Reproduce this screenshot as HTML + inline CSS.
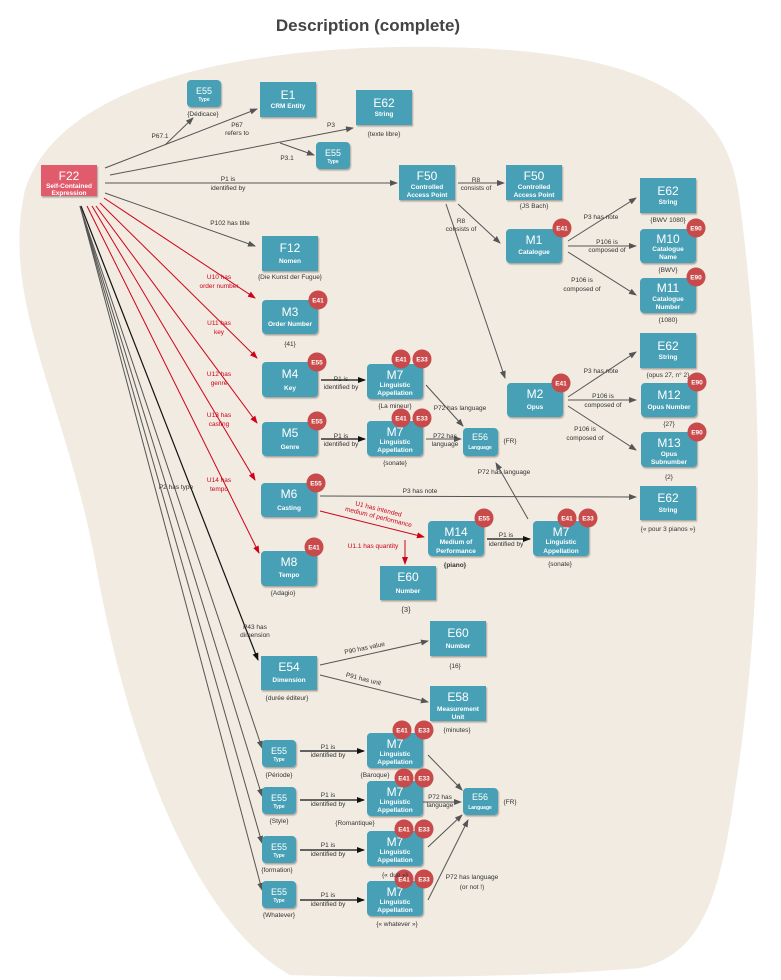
<!DOCTYPE html>
<html><head><meta charset="utf-8"><style>
html,body{margin:0;padding:0;background:#fff;}
svg{display:block;font-family:"Liberation Sans",sans-serif;}
.n{fill:#46a0b6;}
.c{fill:#fff;font-size:12px;text-anchor:middle;}
.s{fill:#fff;font-size:6.5px;font-weight:bold;text-anchor:middle;}
.t{fill:#fff;font-size:5px;font-weight:bold;text-anchor:middle;}
.l{fill:#333;font-size:6.5px;text-anchor:middle;}
.r{fill:#d0021b;font-size:6.5px;text-anchor:middle;}
.b{fill:#c94a4a;}
.bt{fill:#fff;font-size:6.5px;font-weight:bold;text-anchor:middle;}
.e{stroke:#555;stroke-width:1;fill:none;marker-end:url(#a);}
.er{stroke:#d0021b;stroke-width:1;fill:none;marker-end:url(#ar);}
.ek{stroke:#111;stroke-width:1.2;fill:none;marker-end:url(#ak);}
.g{stroke:#555;stroke-width:0.9;fill:none;}
</style></head><body>
<svg width="781" height="980" viewBox="0 0 781 980">
<defs>
<marker id="a" markerWidth="8" markerHeight="6" refX="7" refY="3" orient="auto" markerUnits="userSpaceOnUse"><path d="M0,0 L8,3 L0,6 Z" fill="#555"/></marker>
<marker id="ar" markerWidth="8" markerHeight="6" refX="7" refY="3" orient="auto" markerUnits="userSpaceOnUse"><path d="M0,0 L8,3 L0,6 Z" fill="#d0021b"/></marker>
<marker id="ak" markerWidth="8" markerHeight="6" refX="7" refY="3" orient="auto" markerUnits="userSpaceOnUse"><path d="M0,0 L8,3 L0,6 Z" fill="#111"/></marker>
<filter id="sh" x="-10%" y="-10%" width="130%" height="140%"><feDropShadow dx="1" dy="1.5" stdDeviation="0.8" flood-color="#000" flood-opacity="0.3"/></filter>
</defs>
<text x="368" y="31" style="font-size:17px;fill:#444;text-anchor:middle;font-weight:600;font-family:'Liberation Sans',sans-serif">Description (complete)</text>
<path d="M400,47 C610,45 720,80 738,190 C765,380 765,600 735,790 C720,900 700,955 640,968 C520,978 380,978 290,975 C200,925 130,760 95,560 C65,400 0,300 25,190 C60,80 250,49 400,47 Z" fill="#f1ebe1"/>

<g>
<path class="e" d="M105,168 L257,109"/>
<path class="e" d="M165,145 L193,118"/>
<path class="e" d="M110,175 L353,128"/>
<path class="e" d="M280,143 L314,155"/>
<path class="e" d="M105,183 L397,183"/>
<path class="e" d="M105,193 L255,246"/>
<path class="er" d="M104,198 L255,298"/>
<path class="er" d="M100,203 L257,358"/>
<path class="er" d="M96,206 L257,423"/>
<path class="er" d="M92,206 L255,480"/>
<path class="er" d="M87,206 L259,553"/>
<path class="ek" d="M81,206 L258,660"/>
<path class="e" d="M80,206 L262,748"/>
<path class="e" d="M80,206 L262,796"/>
<path class="e" d="M80,206 L262,843"/>
<path class="e" d="M80,206 L262,890"/>
<path class="e" d="M458,183 L504,183"/>
<path class="e" d="M458,204 L500,243"/>
<path class="e" d="M446,204 L505,378"/>
<path class="e" d="M568,241 L636,198"/>
<path class="e" d="M568,246 L636,246"/>
<path class="e" d="M568,252 L636,295"/>
<path class="e" d="M568,397 L636,352"/>
<path class="e" d="M568,400 L636,400"/>
<path class="e" d="M568,406 L636,450"/>
<path class="ek" d="M321,380 L365,380"/>
<path class="e" d="M426,385 L463,426"/>
<path class="ek" d="M321,439 L365,439"/>
<path class="e" d="M426,439 L461,439"/>
<path class="e" d="M528,519 L496,463"/>
<path class="e" d="M320,496 L636,497"/>
<path class="er" d="M320,511 L424,537"/>
<path class="er" d="M405,540 L405,564"/>
<path class="ek" d="M487,539 L530,539"/>
<path class="e" d="M320,665 L428,641"/>
<path class="e" d="M320,675 L428,702"/>
<path class="ek" d="M300,751 L364,751"/>
<path class="ek" d="M300,800 L364,800"/>
<path class="ek" d="M300,850 L364,850"/>
<path class="ek" d="M300,900 L364,900"/>
<path class="e" d="M428,755 L462,790"/>
<path class="e" d="M423,802 L461,802"/>
<path class="e" d="M428,847 L462,815"/>
<path class="e" d="M428,900 L468,820"/>
</g>

<g>
<text class="l" x="160" y="138">P67.1</text>
<text class="l" x="237" y="127">P67</text><text class="l" x="237" y="135">refers to</text>
<text class="l" x="331" y="127">P3</text>
<text class="l" x="287" y="160">P3.1</text>
<text class="l" x="228" y="181">P1 is</text><text class="l" x="228" y="190">identified by</text>
<text class="l" x="230" y="225">P102 has title</text>
<text class="r" x="219" y="279">U10 has</text><text class="r" x="219" y="288">order number</text>
<text class="r" x="219" y="325">U11 has</text><text class="r" x="219" y="334">key</text>
<text class="r" x="219" y="376">U12 has</text><text class="r" x="219" y="385">genre</text>
<text class="r" x="219" y="417">U13 has</text><text class="r" x="219" y="426">casting</text>
<text class="r" x="219" y="482">U14 has</text><text class="r" x="219" y="491">tempo</text>
<text class="l" x="176" y="489">P2 has type</text>
<text class="l" x="255" y="629">P43 has</text><text class="l" x="255" y="637">dimension</text>
<text class="l" x="476" y="182">R8</text><text class="l" x="476" y="190">consists of</text>
<text class="l" x="461" y="223">R8</text><text class="l" x="461" y="231">consists of</text>
<text class="l" x="601" y="219">P3 has note</text>
<text class="l" x="607" y="244">P106 is</text><text class="l" x="607" y="252">composed of</text>
<text class="l" x="582" y="282">P106 is</text><text class="l" x="582" y="291">composed of</text>
<text class="l" x="601" y="373">P3 has note</text>
<text class="l" x="603" y="398">P106 is</text><text class="l" x="603" y="407">composed of</text>
<text class="l" x="585" y="431">P106 is</text><text class="l" x="585" y="440">composed of</text>
<text class="l" x="341" y="381">P1 is</text><text class="l" x="341" y="389">identified by</text>
<text class="l" x="460" y="410">P72 has language</text>
<text class="l" x="341" y="438">P1 is</text><text class="l" x="341" y="446">identified by</text>
<text class="l" x="445" y="438">P72 has</text><text class="l" x="445" y="446">language</text>
<text class="l" x="504" y="474">P72 has language</text>
<text class="l" x="420" y="493">P3 has note</text>
<text class="r" x="378" y="511" transform="rotate(14 378 511)">U1 has intended</text>
<text class="r" x="378" y="519" transform="rotate(14 378 519)">medium of performance</text>
<text class="r" x="373" y="548">U1.1 has quantity</text>
<text class="l" x="506" y="537">P1 is</text><text class="l" x="506" y="546">identified by</text>
<text class="l" x="365" y="650" transform="rotate(-12 365 650)">P90 has value</text>
<text class="l" x="363" y="681" transform="rotate(14 363 681)">P91 has unit</text>
<text class="l" x="328" y="749">P1 is</text><text class="l" x="328" y="757">identified by</text>
<text class="l" x="328" y="797">P1 is</text><text class="l" x="328" y="806">identified by</text>
<text class="l" x="328" y="847">P1 is</text><text class="l" x="328" y="856">identified by</text>
<text class="l" x="328" y="897">P1 is</text><text class="l" x="328" y="906">identified by</text>
<text class="l" x="440" y="799">P72 has</text><text class="l" x="440" y="807">language</text>
<text class="l" x="472" y="879">P72 has language</text><text class="l" x="472" y="889">(or not !)</text>
</g>

<g filter="url(#sh)">
<rect x="41" y="165" width="56" height="31" fill="#e05c6c"/>
<rect class="n" x="187" y="80" width="34" height="27" rx="4"/>
<rect class="n" x="260" y="82" width="56" height="35"/>
<rect class="n" x="356" y="90" width="56" height="35"/>
<rect class="n" x="316" y="142" width="34" height="27" rx="4"/>
<rect class="n" x="399" y="165" width="56" height="35"/>
<rect class="n" x="506" y="165" width="56" height="35"/>
<rect class="n" x="640" y="178" width="56" height="35"/>
<rect class="n" x="506" y="229" width="56" height="34" rx="4"/>
<rect class="n" x="640" y="229" width="56" height="34" rx="4"/>
<rect class="n" x="640" y="278" width="56" height="35" rx="4"/>
<rect class="n" x="262" y="236" width="56" height="35"/>
<rect class="n" x="262" y="300" width="56" height="34" rx="4"/>
<rect class="n" x="640" y="333" width="56" height="35"/>
<rect class="n" x="262" y="362" width="56" height="35" rx="4"/>
<rect class="n" x="367" y="364" width="56" height="35" rx="4"/>
<rect class="n" x="507" y="383" width="56" height="34" rx="4"/>
<rect class="n" x="641" y="383" width="56" height="34" rx="4"/>
<rect class="n" x="262" y="422" width="56" height="34" rx="4"/>
<rect class="n" x="367" y="421" width="56" height="35" rx="4"/>
<rect class="n" x="463" y="428" width="35" height="28" rx="4"/>
<rect class="n" x="641" y="432" width="56" height="35" rx="4"/>
<rect class="n" x="261" y="483" width="56" height="34" rx="4"/>
<rect class="n" x="640" y="486" width="56" height="34"/>
<rect class="n" x="428" y="521" width="56" height="35" rx="4"/>
<rect class="n" x="533" y="521" width="56" height="35" rx="4"/>
<rect class="n" x="261" y="551" width="56" height="35" rx="4"/>
<rect class="n" x="380" y="566" width="56" height="34"/>
<rect class="n" x="430" y="621" width="56" height="35"/>
<rect class="n" x="261" y="656" width="56" height="34"/>
<rect class="n" x="430" y="686" width="56" height="35"/>
<rect class="n" x="262" y="740" width="34" height="27" rx="4"/>
<rect class="n" x="262" y="787" width="34" height="27" rx="4"/>
<rect class="n" x="262" y="836" width="34" height="27" rx="4"/>
<rect class="n" x="262" y="881" width="34" height="27" rx="4"/>
<rect class="n" x="367" y="733" width="56" height="35" rx="4"/>
<rect class="n" x="367" y="781" width="56" height="35" rx="4"/>
<rect class="n" x="367" y="831" width="56" height="35" rx="4"/>
<rect class="n" x="367" y="881" width="56" height="35" rx="4"/>
<rect class="n" x="463" y="788" width="35" height="27" rx="4"/>
</g>

<g>
<text class="c" x="69" y="180">F22</text><text class="s" x="69" y="188">Self-Contained</text><text class="s" x="69" y="195">Expression</text>
<text class="c" x="204" y="94" style="font-size:9px">E55</text><text class="t" x="204" y="101">Type</text>
<text class="c" x="288" y="99">E1</text><text class="s" x="288" y="108">CRM Entity</text>
<text class="c" x="384" y="107">E62</text><text class="s" x="384" y="116">String</text>
<text class="c" x="333" y="156" style="font-size:9px">E55</text><text class="t" x="333" y="163">Type</text>
<text class="c" x="427" y="180">F50</text><text class="s" x="427" y="189">Controlled</text><text class="s" x="427" y="197">Access Point</text>
<text class="c" x="534" y="180">F50</text><text class="s" x="534" y="189">Controlled</text><text class="s" x="534" y="197">Access Point</text>
<text class="c" x="668" y="195">E62</text><text class="s" x="668" y="204">String</text>
<text class="c" x="534" y="244">M1</text><text class="s" x="534" y="254">Catalogue</text>
<text class="c" x="668" y="243">M10</text><text class="s" x="668" y="251">Catalogue</text><text class="s" x="668" y="259">Name</text>
<text class="c" x="668" y="292">M11</text><text class="s" x="668" y="301">Catalogue</text><text class="s" x="668" y="309">Number</text>
<text class="c" x="290" y="252">F12</text><text class="s" x="290" y="263">Nomen</text>
<text class="c" x="290" y="316">M3</text><text class="s" x="290" y="326">Order Number</text>
<text class="c" x="668" y="350">E62</text><text class="s" x="668" y="359">String</text>
<text class="c" x="290" y="378">M4</text><text class="s" x="290" y="390">Key</text>
<text class="c" x="395" y="379">M7</text><text class="s" x="395" y="387">Linguistic</text><text class="s" x="395" y="395">Appellation</text>
<text class="c" x="535" y="398">M2</text><text class="s" x="535" y="409">Opus</text>
<text class="c" x="669" y="399">M12</text><text class="s" x="669" y="409">Opus Number</text>
<text class="c" x="290" y="437">M5</text><text class="s" x="290" y="449">Genre</text>
<text class="c" x="395" y="436">M7</text><text class="s" x="395" y="444">Linguistic</text><text class="s" x="395" y="452">Appellation</text>
<text class="c" x="480" y="440" style="font-size:9px">E56</text><text class="t" x="480" y="449">Language</text>
<text class="c" x="669" y="447">M13</text><text class="s" x="669" y="456">Opus</text><text class="s" x="669" y="464">Subnumber</text>
<text class="c" x="289" y="498">M6</text><text class="s" x="289" y="510">Casting</text>
<text class="c" x="668" y="502">E62</text><text class="s" x="668" y="512">String</text>
<text class="c" x="456" y="536">M14</text><text class="s" x="456" y="544">Medium of</text><text class="s" x="456" y="553">Performance</text>
<text class="c" x="561" y="536">M7</text><text class="s" x="561" y="544">Linguistic</text><text class="s" x="561" y="553">Appellation</text>
<text class="c" x="289" y="566">M8</text><text class="s" x="289" y="577">Tempo</text>
<text class="c" x="408" y="581">E60</text><text class="s" x="408" y="593">Number</text>
<text class="c" x="458" y="637">E60</text><text class="s" x="458" y="648">Number</text>
<text class="c" x="289" y="671">E54</text><text class="s" x="289" y="682">Dimension</text>
<text class="c" x="458" y="701">E58</text><text class="s" x="458" y="711">Measurement</text><text class="s" x="458" y="719">Unit</text>
<text class="c" x="279" y="754" style="font-size:9px">E55</text><text class="t" x="279" y="761">Type</text>
<text class="c" x="279" y="801" style="font-size:9px">E55</text><text class="t" x="279" y="808">Type</text>
<text class="c" x="279" y="850" style="font-size:9px">E55</text><text class="t" x="279" y="857">Type</text>
<text class="c" x="279" y="895" style="font-size:9px">E55</text><text class="t" x="279" y="902">Type</text>
<text class="c" x="395" y="748">M7</text><text class="s" x="395" y="756">Linguistic</text><text class="s" x="395" y="764">Appellation</text>
<text class="c" x="395" y="796">M7</text><text class="s" x="395" y="804">Linguistic</text><text class="s" x="395" y="812">Appellation</text>
<text class="c" x="395" y="846">M7</text><text class="s" x="395" y="854">Linguistic</text><text class="s" x="395" y="862">Appellation</text>
<text class="c" x="395" y="896">M7</text><text class="s" x="395" y="904">Linguistic</text><text class="s" x="395" y="912">Appellation</text>
<text class="c" x="480" y="800" style="font-size:9px">E56</text><text class="t" x="480" y="809">Language</text>
</g>

<g>
<circle class="b" cx="562" cy="228" r="9.5"/><text class="bt" x="562" y="230.5">E41</text>
<circle class="b" cx="696" cy="228" r="9.5"/><text class="bt" x="696" y="230.5">E90</text>
<circle class="b" cx="696" cy="277" r="9.5"/><text class="bt" x="696" y="279.5">E90</text>
<circle class="b" cx="318" cy="300" r="9.5"/><text class="bt" x="318" y="302.5">E41</text>
<circle class="b" cx="317" cy="362" r="9.5"/><text class="bt" x="317" y="364.5">E55</text>
<circle class="b" cx="401" cy="359" r="9.5"/><text class="bt" x="401" y="361.5">E41</text>
<circle class="b" cx="422" cy="359" r="9.5"/><text class="bt" x="422" y="361.5">E33</text>
<circle class="b" cx="561" cy="383" r="9.5"/><text class="bt" x="561" y="385.5">E41</text>
<circle class="b" cx="697" cy="382" r="9.5"/><text class="bt" x="697" y="384.5">E90</text>
<circle class="b" cx="317" cy="421" r="9.5"/><text class="bt" x="317" y="423.5">E55</text>
<circle class="b" cx="401" cy="418" r="9.5"/><text class="bt" x="401" y="420.5">E41</text>
<circle class="b" cx="422" cy="418" r="9.5"/><text class="bt" x="422" y="420.5">E33</text>
<circle class="b" cx="697" cy="432" r="9.5"/><text class="bt" x="697" y="434.5">E90</text>
<circle class="b" cx="316" cy="483" r="9.5"/><text class="bt" x="316" y="485.5">E55</text>
<circle class="b" cx="484" cy="518" r="9.5"/><text class="bt" x="484" y="520.5">E55</text>
<circle class="b" cx="567" cy="518" r="9.5"/><text class="bt" x="567" y="520.5">E41</text>
<circle class="b" cx="588" cy="518" r="9.5"/><text class="bt" x="588" y="520.5">E33</text>
<circle class="b" cx="314" cy="547" r="9.5"/><text class="bt" x="314" y="549.5">E41</text>
<circle class="b" cx="402" cy="730" r="9.5"/><text class="bt" x="402" y="732.5">E41</text>
<circle class="b" cx="424" cy="730" r="9.5"/><text class="bt" x="424" y="732.5">E33</text>
<circle class="b" cx="404" cy="778" r="9.5"/><text class="bt" x="404" y="780.5">E41</text>
<circle class="b" cx="424" cy="778" r="9.5"/><text class="bt" x="424" y="780.5">E33</text>
<circle class="b" cx="404" cy="829" r="9.5"/><text class="bt" x="404" y="831.5">E41</text>
<circle class="b" cx="424" cy="829" r="9.5"/><text class="bt" x="424" y="831.5">E33</text>
<circle class="b" cx="404" cy="879" r="9.5"/><text class="bt" x="404" y="881.5">E41</text>
<circle class="b" cx="424" cy="879" r="9.5"/><text class="bt" x="424" y="881.5">E33</text>
</g>

<g>
<text class="l" x="203" y="116">{Dédicace}</text>
<text class="l" x="384" y="136">{texte libre}</text>
<text class="l" x="534" y="208">{JS Bach}</text>
<text class="l" x="668" y="222">{BWV 1080}</text>
<text class="l" x="668" y="272">{BWV}</text>
<text class="l" x="668" y="322">{1080}</text>
<text class="l" x="290" y="279">{Die Kunst der Fugue}</text>
<text class="l" x="290" y="346">{41}</text>
<text class="l" x="668" y="377">{opus 27, n° 2}</text>
<text class="l" x="395" y="408">{La mineur}</text>
<text class="l" x="669" y="426">{27}</text>
<text class="l" x="395" y="465">{sonate}</text>
<text class="l" x="510" y="443">{FR}</text>
<text class="l" x="669" y="479">{2}</text>
<text class="l" x="668" y="531">{« pour 3 pianos »}</text>
<text class="l" x="455" y="567" style="font-weight:bold">{piano}</text>
<text class="l" x="560" y="566">{sonate}</text>
<text class="l" x="283" y="595">{Adagio}</text>
<text class="l" x="406" y="612" style="font-size:7.5px">{3}</text>
<text class="l" x="455" y="668">{16}</text>
<text class="l" x="287" y="700">{durée éditeur}</text>
<text class="l" x="457" y="732">{minutes}</text>
<text class="l" x="279" y="777">{Période}</text>
<text class="l" x="279" y="823">{Style}</text>
<text class="l" x="277" y="872">{formation}</text>
<text class="l" x="279" y="917">{Whatever}</text>
<text class="l" x="375" y="777">{Baroque}</text>
<text class="l" x="355" y="825">{Romantique}</text>
<text class="l" x="395" y="877">{« duo »}</text>
<text class="l" x="397" y="926">{« whatever »}</text>
<text class="l" x="510" y="804">{FR}</text>
</g>
</svg>
</body></html>
